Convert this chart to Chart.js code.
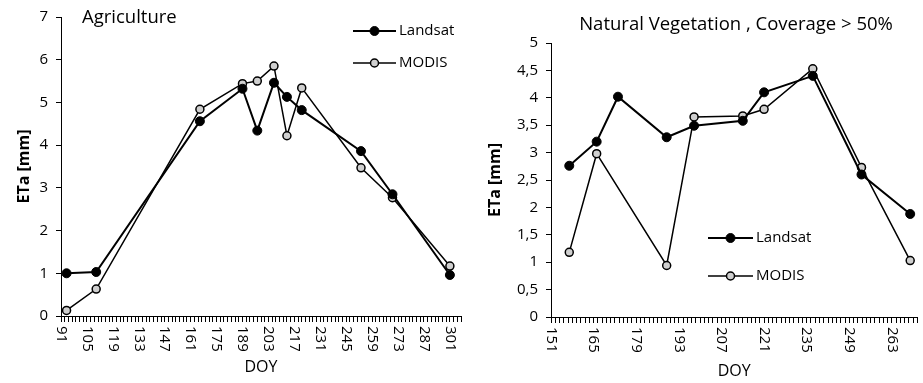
<!DOCTYPE html>
<html>
<head>
<meta charset="utf-8">
<script src="https://cdn.jsdelivr.net/npm/chart.js@4"></script>
<style>
  body { margin: 0; background: #fff; }
  #wrap { position: relative; width: 923px; height: 383px; }
  #agriChart { position: absolute; left: 0; top: 0; }
  #natChart { position: absolute; left: 470px; top: 0; }
</style>
</head>
<body>
<div id="wrap">
  <canvas id="agriChart" width="470" height="383"></canvas>
  <canvas id="natChart" width="453" height="383"></canvas>
</div>
<script>
// Agriculture
const agriDoy = [94, 110, 166, 189, 197, 206, 213, 221, 253, 270, 301];
const agriLandsat = [1.0, 1.03, 4.56, 5.32, 4.34, 5.46, 5.13, 4.82, 3.86, 2.85, 0.96];
const agriModis = [0.13, 0.63, 4.84, 5.44, 5.50, 5.85, 4.22, 5.34, 3.47, 2.77, 1.17];
const agriXLabels = [91, 105, 119, 133, 147, 161, 175, 189, 203, 217, 231, 245, 259, 273, 287, 301];

// Natural vegetation, coverage > 50%
const natDoyLandsat = [157, 166, 173, 189, 198, 214, 221, 237, 253, 269];
const natLandsat = [2.76, 3.20, 4.02, 3.28, 3.49, 3.58, 4.10, 4.40, 2.60, 1.88];
const natDoyModis = [157, 166, 189, 198, 214, 221, 237, 253, 269];
const natModis = [1.18, 2.98, 0.94, 3.65, 3.67, 3.79, 4.53, 2.73, 1.03];
const natXLabels = [151, 165, 179, 193, 207, 221, 235, 249, 263];

const FONT = '"Open Sans"';

function toPoints(xs, ys) {
    return xs.map((x, i) => ({ x: x, y: ys[i] }));
}

function landsatSet(data) {
    return {
        label: 'Landsat',
        data: data,
        borderColor: '#000',
        backgroundColor: '#000',
        borderWidth: 2,
        pointRadius: 4.5,
        pointBorderWidth: 1,
        pointBorderColor: '#000',
        pointBackgroundColor: '#000',
        tension: 0
    };
}

function modisSet(data) {
    return {
        label: 'MODIS',
        data: data,
        borderColor: '#000',
        backgroundColor: '#fff',
        borderWidth: 1.5,
        pointRadius: 4,
        pointBorderWidth: 1.5,
        pointBorderColor: '#000',
        pointBackgroundColor: '#cfcfcf',
        tension: 0
    };
}

// draws titles, rotated x labels and the legend
const textPlugin = {
    id: 'texts',
    afterDraw(chart, args, o) {
        const ctx = chart.ctx;
        const xs = chart.scales.x;
        const ca = chart.chartArea;
        ctx.save();
        ctx.fillStyle = '#000';

        // x tick labels, turned clockwise
        ctx.font = '15px ' + FONT;
        ctx.textAlign = 'left';
        ctx.textBaseline = 'middle';
        o.xLabels.forEach(v => {
            ctx.save();
            ctx.translate(xs.getPixelForValue(v), xs.top + 10);
            ctx.rotate(Math.PI / 2);
            ctx.fillText(String(v), 0, 0);
            ctx.restore();
        });

        // axis titles
        ctx.textAlign = 'center';
        ctx.font = '16px ' + FONT;
        ctx.fillText('DOY', (ca.left + ca.right) / 2, o.xTitleY);

        ctx.save();
        ctx.font = 'bold 16px ' + FONT;
        ctx.translate(o.yTitleX, (ca.top + ca.bottom) / 2);
        ctx.rotate(-Math.PI / 2);
        ctx.fillText('ETa [mm]', 0, 0);
        ctx.restore();

        // chart title
        ctx.font = '18.5px ' + FONT;
        ctx.textAlign = o.titleAlign;
        ctx.fillText(o.title, o.titleX, o.titleY);

        // legend
        ctx.font = '15px ' + FONT;
        ctx.textAlign = 'left';
        chart.data.datasets.forEach((ds, i) => {
            const y = o.legendY[i];
            ctx.strokeStyle = ds.borderColor;
            ctx.lineWidth = ds.borderWidth;
            ctx.beginPath();
            ctx.moveTo(o.legendX1, y);
            ctx.lineTo(o.legendX2, y);
            ctx.stroke();
            ctx.beginPath();
            ctx.arc((o.legendX1 + o.legendX2) / 2, y, ds.pointRadius, 0, Math.PI * 2);
            ctx.fillStyle = ds.pointBackgroundColor;
            ctx.fill();
            ctx.lineWidth = ds.pointBorderWidth;
            ctx.stroke();
            ctx.fillStyle = '#000';
            ctx.fillText(ds.label, o.legendX2 + 3, y);
        });
        ctx.restore();
    }
};

function createChart(canvasId, datasets, cfg) {
    const canvas = document.getElementById(canvasId);
    const ctx = canvas.getContext('2d');
    return new Chart(ctx, {
        type: 'line',
        data: { datasets: datasets },
        options: {
            responsive: false,
            animation: false,
            layout: { padding: { top: cfg.padTop, right: cfg.padRight, left: 0, bottom: 0 } },
            plugins: {
                legend: { display: false },
                tooltip: { enabled: false },
                texts: cfg.texts
            },
            scales: {
                x: {
                    type: 'linear',
                    min: cfg.xMin,
                    max: cfg.xMax,
                    afterFit: s => { s.height = cfg.xHeight; },
                    ticks: { display: false, stepSize: cfg.xStep },
                    grid: { drawOnChartArea: false, drawTicks: true, tickLength: 6, color: '#000', lineWidth: 1 },
                    border: { display: true, color: '#000', width: 1 }
                },
                y: {
                    min: 0,
                    max: cfg.yMax,
                    afterFit: s => { s.width = cfg.yWidth; },
                    ticks: {
                        stepSize: cfg.yStep,
                        padding: 8,
                        color: '#000',
                        font: { family: FONT, size: 15 },
                        callback: v => String(v).replace('.', ',')
                    },
                    grid: { drawOnChartArea: false, drawTicks: true, tickLength: 5, color: '#000', lineWidth: 1 },
                    border: { display: true, color: '#000', width: 1 }
                }
            }
        },
        plugins: [textPlugin]
    });
}

createChart('agriChart',
    [landsatSet(toPoints(agriDoy, agriLandsat)), modisSet(toPoints(agriDoy, agriModis))],
    {
        padTop: 14, padRight: 9, xMin: 91, xMax: 307, xStep: 2, xHeight: 67, yMax: 7, yStep: 1, yWidth: 61,
        texts: {
            xLabels: agriXLabels, xTitleY: 367, yTitleX: 24,
            title: 'Agriculture', titleX: 82, titleY: 18, titleAlign: 'left',
            legendX1: 353, legendX2: 396, legendY: [31, 63]
        }
    });

createChart('natChart',
    [landsatSet(toPoints(natDoyLandsat, natLandsat)), modisSet(toPoints(natDoyModis, natModis))],
    {
        padTop: 43, padRight: 1, xMin: 151, xMax: 271.4, xStep: 1.4, xHeight: 66, yMax: 5, yStep: 0.5, yWidth: 81,
        texts: {
            xLabels: natXLabels, xTitleY: 371, yTitleX: 25,
            title: 'Natural Vegetation , Coverage > 50%', titleX: 266, titleY: 25, titleAlign: 'center',
            legendX1: 238, legendX2: 283, legendY: [238, 276]
        }
    });
</script>
</body>
</html>
